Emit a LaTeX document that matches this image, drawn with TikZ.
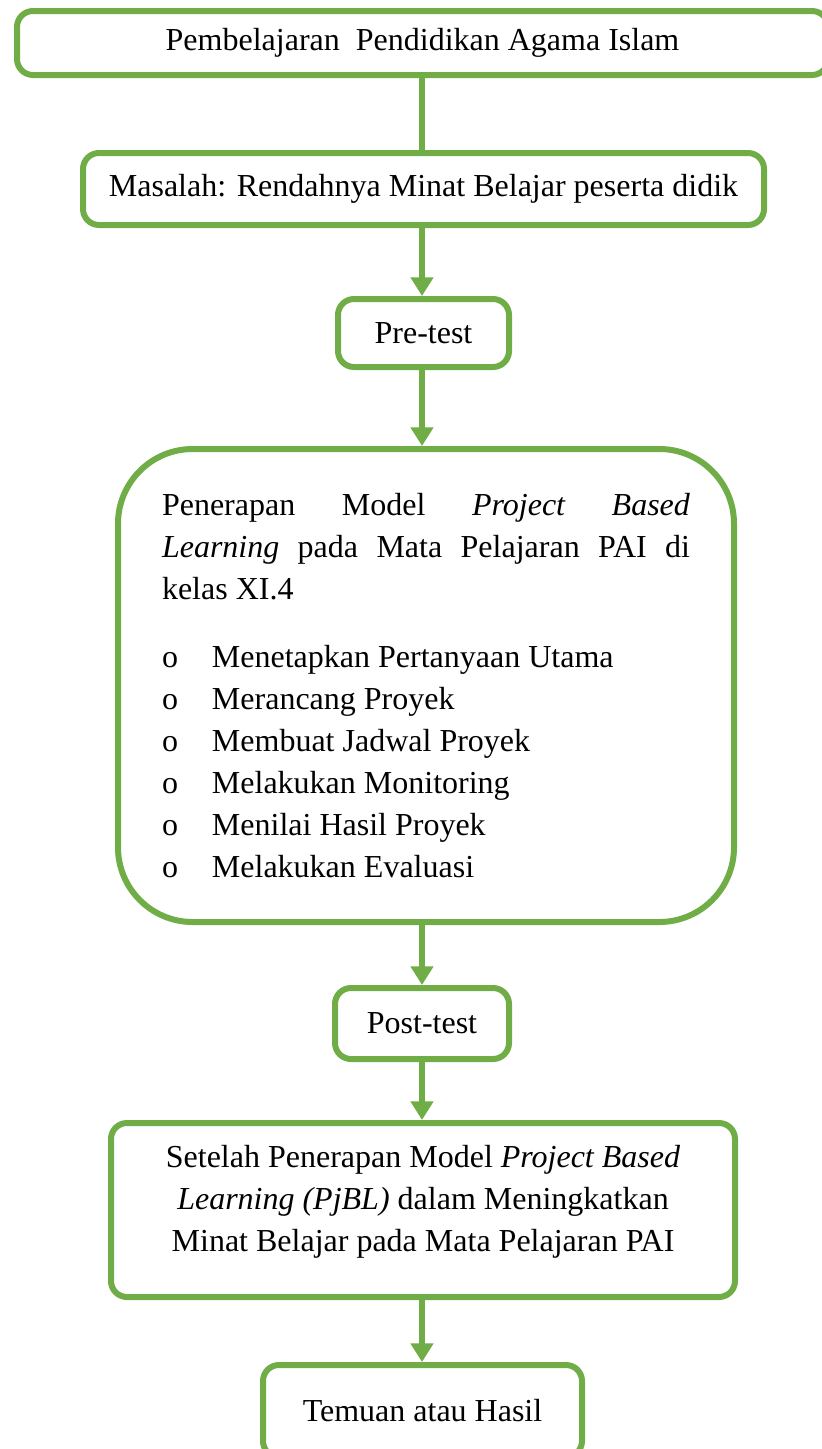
\documentclass[tikz,border=0pt]{standalone}
\usepackage{fontspec}
\setmainfont{Liberation Serif}
\usepackage{tikz}
\usetikzlibrary{arrows.meta}
\definecolor{boxgreen}{HTML}{70AD47}

\tikzset{
	flowbox/.style={draw=boxgreen, line width=4.5pt, rounded corners=12pt, align=center, inner sep=0pt, font=\fontsize{24}{31.5}\selectfont},
	flowtext/.style={align=center, inner sep=0pt, font=\fontsize{24}{31.5}\selectfont},
	flowline/.style={draw=boxgreen, line width=4.5pt},
	flowarrow/.style={flowline, -{Triangle[width=16.5pt, length=14pt]}}
}

\begin{document}
\begin{tikzpicture}[x=0.75pt, y=-0.75pt]
		\useasboundingbox (0,0) rectangle (821,1449);

		\node[flowbox, minimum width=608.25pt, minimum height=48pt] (pai) at (422.5,43) {Pembelajaran\ \ Pendidikan Agama Islam};

		\node[flowbox, minimum width=510.75pt, minimum height=54pt] (masalah) at (423.5,189) {Masalah: Rendahnya Minat Belajar peserta didik};

		\node[flowbox, minimum width=128.25pt, minimum height=51pt] (pretest) at (423.5,333) {Pre-test};

		\node[flowbox, rounded corners=56pt, align=justify, text width=396pt, minimum width=462pt, minimum height=354.75pt] (pjbl) at (426,685.5) {Penerapan Model \textit{Project Based}\linebreak \textit{Learning} pada Mata Pelajaran PAI di\linebreak kelas XI.4\par\vspace{19.5pt}
			\noindent\makebox[37.5pt][l]{o}Menetapkan Pertanyaan Utama\par
			\noindent\makebox[37.5pt][l]{o}Merancang Proyek\par
			\noindent\makebox[37.5pt][l]{o}Membuat Jadwal Proyek\par
			\noindent\makebox[37.5pt][l]{o}Melakukan Monitoring\par
			\noindent\makebox[37.5pt][l]{o}Menilai Hasil Proyek\par
			\noindent\makebox[37.5pt][l]{o}Melakukan Evaluasi};

		\node[flowbox, minimum width=130.5pt, minimum height=53.25pt] (posttest) at (422,1023.5) {Post-test};

		\node[flowbox, minimum width=468pt, minimum height=130.5pt] (setelah) at (423,1210) {};
		\node[flowtext] (setelahtext) at ([yshift=6pt]setelah.center) {Setelah Penerapan Model \textit{Project Based}\\\textit{Learning (PjBL)} dalam Meningkatkan\\Minat Belajar pada Mata Pelajaran PAI};

		\node[flowbox, minimum width=239.25pt, minimum height=69pt] (temuan) at (422.5,1411) {Temuan atau Hasil};

		\draw[flowline] (pai.south -| posttest.north) -- (posttest.north |- masalah.north);
		\draw[flowarrow] (masalah.south -| posttest.north) -- (posttest.north |- pretest.north);
		\draw[flowarrow] (pretest.south -| posttest.north) -- (posttest.north |- pjbl.north);
		\draw[flowarrow] (pjbl.south -| posttest.north) -- (posttest.north);
		\draw[flowarrow] (posttest.south) -- (posttest.south |- setelah.north);
		\draw[flowarrow] (setelah.south -| posttest.south) -- (posttest.south |- temuan.north);
	\end{tikzpicture}
\end{document}
